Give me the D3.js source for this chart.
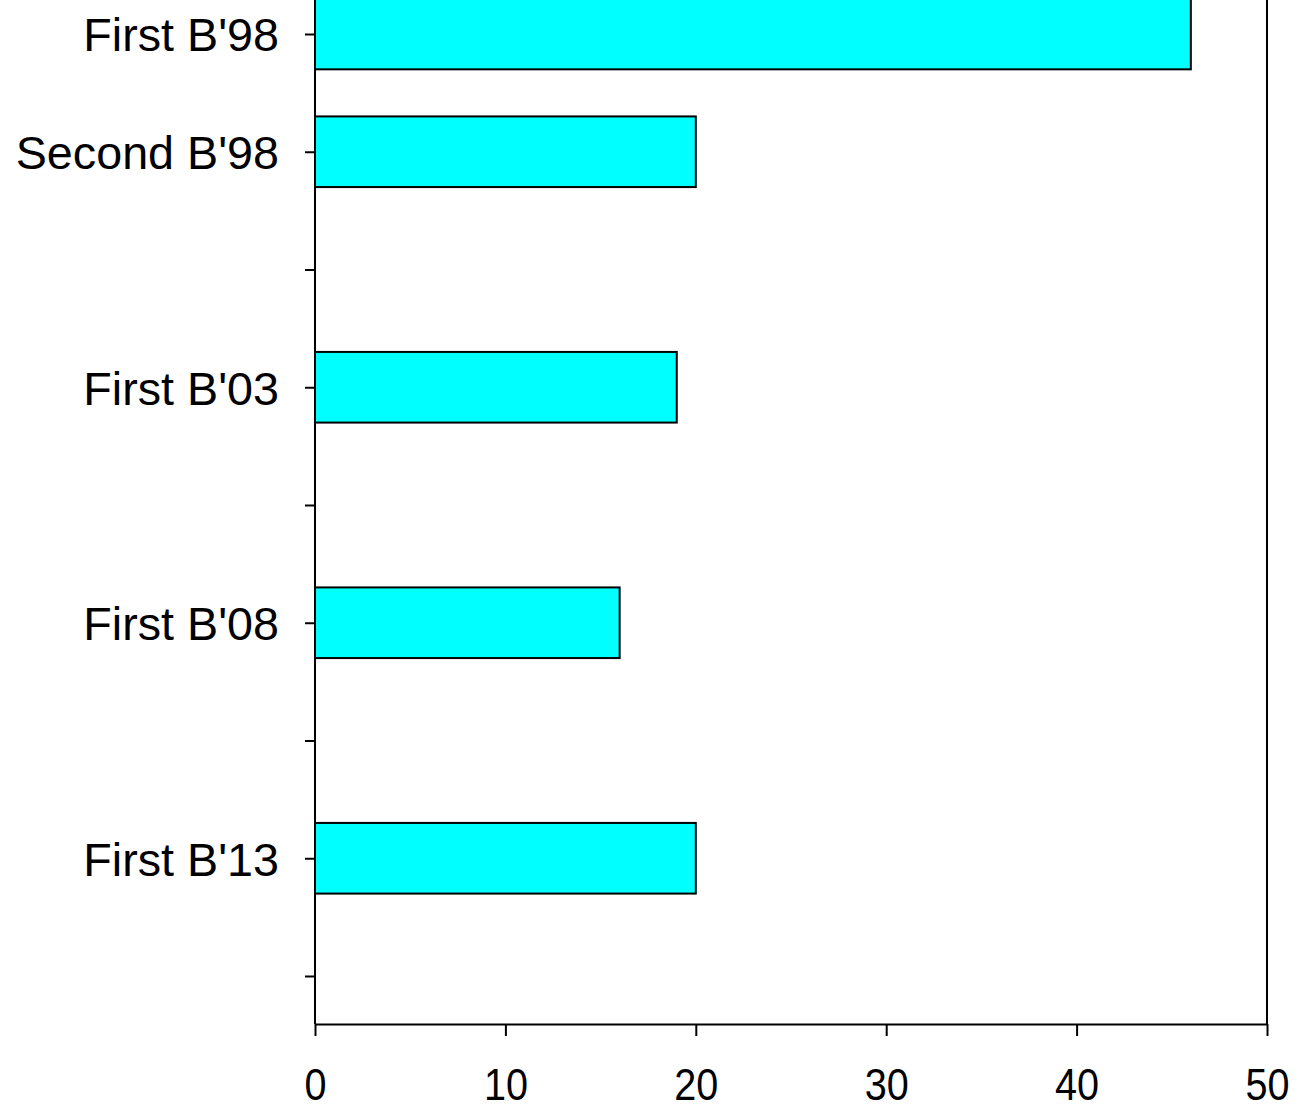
<!DOCTYPE html>
<head>
    <meta charset="utf-8" />
    <script src="https://d3js.org/d3.v7.min.js"></script>
    <style>
        body { margin: 0; background: #fff; }
        text { font-family: "Liberation Sans", Arial, sans-serif; fill: #000; }
    </style>
</head>
<body>
<script>
    var width = 1299, height = 1109;

    // categories (empty strings are unlabeled gap slots)
    var categories = ["First B'98", "Second B'98", "", "First B'03", "", "First B'08", "", "First B'13", ""];
    var values = [46, 20, null, 19, null, 16, null, 20, null];
    var xTicks = [0, 10, 20, 30, 40, 50];

    var left = 315, right = 1267, bottom = 1024;

    var svg = d3.select("body").append("svg")
        .attr("width", width)
        .attr("height", height);

    var x = d3.scaleLinear().domain([0, 50]).range([left, right]);
    var y = d3.scalePoint().domain(d3.range(categories.length)).range([34, 976]);
    var barH = y.step() * 0.6;

    // bars
    svg.selectAll("rect.bar")
        .data(values.map(function(v, i) { return {i: i, v: v}; }).filter(function(d) { return d.v != null; }))
        .join("rect")
        .attr("class", "bar")
        .attr("x", x(0))
        .attr("y", function(d) { return y(d.i) - barH / 2; })
        .attr("width", function(d) { return x(d.v) - x(0); })
        .attr("height", barH)
        .attr("fill", "#00ffff")
        .attr("stroke", "#000")
        .attr("stroke-width", 2);

    // right frame line
    svg.append("line")
        .attr("x1", right).attr("x2", right)
        .attr("y1", 0).attr("y2", bottom)
        .attr("stroke", "#000").attr("stroke-width", 2);

    // y axis
    var yAxis = d3.axisLeft(y)
        .tickSize(10)
        .tickPadding(25)
        .tickFormat(function(i) { return categories[i]; });
    var gy = svg.append("g").attr("transform", "translate(" + left + ",0)").call(yAxis);
    gy.select(".domain").remove();
    gy.selectAll(".tick line").attr("stroke", "#000").attr("stroke-width", 2);
    gy.selectAll(".tick text")
        .attr("font-size", 46)
        .attr("font-family", "Liberation Sans, Arial, sans-serif")
        .attr("dy", "0.36em")
        .attr("x", 0)
        .attr("transform", "translate(-36,0) scale(1.015,1.02)");
    gy.append("line")
        .attr("x1", 0).attr("x2", 0)
        .attr("y1", 0).attr("y2", bottom)
        .attr("stroke", "#000").attr("stroke-width", 2);

    // x axis
    var xAxis = d3.axisBottom(x)
        .tickValues(xTicks)
        .tickSize(12)
        .tickPadding(33)
        .tickSizeOuter(0);
    var gx = svg.append("g").attr("transform", "translate(0," + bottom + ")").call(xAxis);
    gx.select(".domain").attr("stroke", "#000").attr("stroke-width", 2);
    gx.selectAll(".tick line").attr("stroke", "#000").attr("stroke-width", 2);
    gx.selectAll(".tick text")
        .attr("font-size", 44)
        .attr("font-family", "Liberation Sans, Arial, sans-serif")
        .attr("transform", "scale(0.9,1)");
</script>
</body>
